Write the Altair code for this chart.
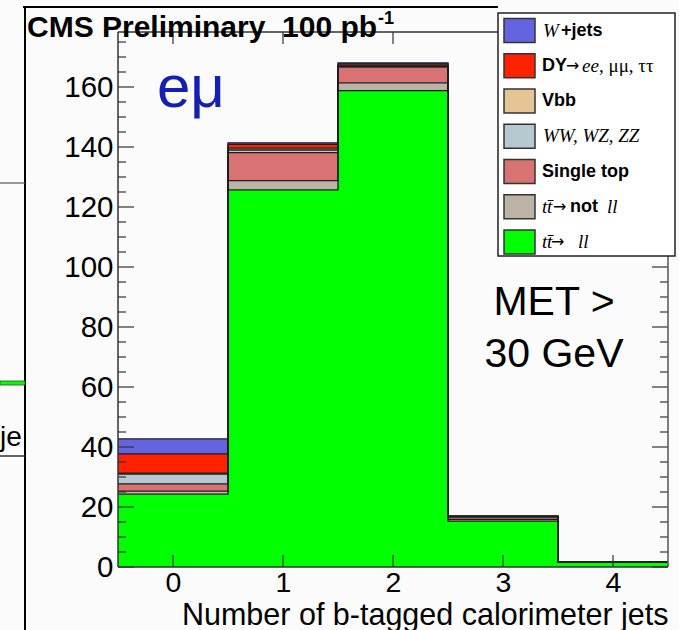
import altair as alt
import numpy as np
import pandas as pd

# ---------------- data ----------------
bins = [0, 1, 2, 3, 4]
processes = ["tt_ll", "tt_notll", "single_top", "diboson", "vbb", "dy", "wjets"]  # bottom -> top
tt_ll      = [24.3, 125.7, 158.8, 15.3, 1.6]
tt_notll   = [1.0, 3.1, 2.6, 0.6, 0.05]
single_top = [2.4, 9.3, 5.2, 0.7, 0.05]
diboson    = [3.3, 0.9, 0.3, 0.2, 0.0]
vbb        = [0.3, 0.6, 0.1, 0.05, 0.0]
dy         = [6.4, 1.3, 0.6, 0.1, 0.0]
wjets      = [5.0, 0.5, 0.4, 0.05, 0.0]
series = [tt_ll, tt_notll, single_top, diboson, vbb, dy, wjets]
process_colors = ["#00ff00", "#bdb2a6", "#d97272", "#b8c8d0", "#e5c596", "#ff2200", "#6464e0"]

y_label_values = [0, 20, 40, 60, 80, 100, 120, 140, 160]
y_minor_values = [v for v in range(0, 180, 5) if v % 20 != 0]
x_tick_values = [0, 1, 2, 3, 4]
bin_edges = [-0.5, 0.5, 1.5, 2.5, 3.5, 4.5]

legend_rows = [
    [("W", "serif-i"), ("+jets", "sans-b")],
    [("DY", "sans-b"), ("\u2192", "arrow"), ("ee", "serif-i"), (", \u03bc\u03bc, \u03c4\u03c4", "serif")],
    [("Vbb", "sans-b")],
    [("WW, WZ, ZZ", "serif-i")],
    [("Single top", "sans-b")],
    [("t", "serif-i"), ("t\u0304", "serif-i"), ("\u2192", "arrow"), ("not", "sans-b"), ("ll", "serif-i")],
    [("t", "serif-i"), ("t\u0304", "serif-i"), ("\u2192", "arrow"), ("ll", "serif-i")],
]
legend_colors = ["#6464e0", "#ff2200", "#e5c596", "#b8c8d0", "#d97272", "#bdb2a6", "#00ff00"]
legend_x = [
    [543, 561],
    [542, 566, 582, 599],
    [542],
    [543],
    [542],
    [542, 547, 553, 570, 607],
    [542, 547, 551, 578],
]

# ---------------- tables ----------------
rows = []
for k, (name, vals) in enumerate(zip(processes, series)):
    for b, v in zip(bins, vals):
        rows.append({"bin": b, "process": name, "order": k, "value": v})
df = pd.DataFrame(rows)

cum = np.cumsum(np.array(series), axis=0)
orows = []
for k, name in enumerate(processes):
    for i, e in enumerate(bin_edges):
        orows.append({"edge": e, "top": float(cum[k][min(i, len(bins) - 1)]), "process": name})
odf = pd.DataFrame(orows)

one = pd.DataFrame({"a": [0]})

W, H = 550, 535
OX, OY = 118, 32  # plot origin in page px
SANS = "Liberation Sans"
SERIF = "Liberation Serif"

xs = alt.Scale(domain=[-0.5, 4.5], nice=False, zero=False)
ys = alt.Scale(domain=[0, H / 3.0], nice=False, zero=True)

ax_x_labels = alt.Axis(orient="bottom", values=x_tick_values, format="d", ticks=False, domain=False,
                       grid=False, labelFont=SANS, labelFontSize=28.5, labelColor="black", labelPadding=1,
                       title="Number of b-tagged calorimeter jets", titleFont=SANS, titleFontSize=30.5,
                       titleFontWeight="normal", titleColor="black", titleAlign="right", titleX=W,
                       titleY=57, titleBaseline="alphabetic", titleAngle=0)
ax_y_labels = alt.Axis(orient="left", values=y_label_values, format="d", ticks=False, domain=False,
                       grid=False, labelFont=SANS, labelFontSize=29.5, labelColor="black", labelPadding=5,
                       title="")

rects = (
    alt.Chart(df)
    .transform_stack(stack="value", groupby=["bin"], as_=["lo", "hi"],
                     sort=[alt.SortField("order", order="ascending")])
    .transform_calculate(xl="datum.bin - 0.5", xr="datum.bin + 0.5")
    .mark_rect(strokeWidth=0)
    .encode(
        x=alt.X("xl:Q", scale=xs, axis=ax_x_labels),
        x2="xr:Q",
        y=alt.Y("lo:Q", scale=ys, axis=ax_y_labels),
        y2="hi:Q",
        color=alt.Color("process:N", scale=alt.Scale(domain=processes, range=process_colors), legend=None),
    )
)

outlines = (
    alt.Chart(odf)
    .mark_line(interpolate="step-after", color="#1e1e1e", strokeWidth=1.3)
    .encode(
        x=alt.X("edge:Q", scale=xs, axis=None),
        y=alt.Y("top:Q", scale=ys, axis=None),
        detail="process:N",
    )
)

TICK = "#333"


def yticks(vals, length, left):
    return alt.Chart(pd.DataFrame({"v": vals})).mark_rule(color=TICK, strokeWidth=1.2).encode(
        y=alt.Y("v:Q", scale=ys, axis=None),
        x=alt.value(0 if left else W),
        x2=alt.value(length if left else W - length),
    )


def xticks(vals, length, bottom):
    return alt.Chart(pd.DataFrame({"v": vals})).mark_rule(color=TICK, strokeWidth=1.2).encode(
        x=alt.X("v:Q", scale=xs, axis=None),
        y=alt.value(H if bottom else 0),
        y2=alt.value(H - length if bottom else length),
    )


ticks = [
    yticks(y_label_values, 16, True), yticks(y_minor_values, 8, True),
    yticks(y_label_values, 16, False), yticks(y_minor_values, 8, False),
    xticks(x_tick_values, 12, True), xticks(x_tick_values, 12, False),
]


def rule(x1, x2, y1, y2, color="black", width=1.5):
    return alt.Chart(one).mark_rule(color=color, strokeWidth=width).encode(
        x=alt.value(x1 - OX), x2=alt.value(x2 - OX), y=alt.value(y1 - OY), y2=alt.value(y2 - OY))


def box(x1, x2, y1, y2, fill, stroke="black", width=1.5):
    return alt.Chart(one).mark_rect(fill=fill, stroke=stroke, strokeWidth=width).encode(
        x=alt.value(x1 - OX), x2=alt.value(x2 - OX), y=alt.value(y1 - OY), y2=alt.value(y2 - OY))


def text(s, x, y, size, font=SANS, weight="normal", style="normal", color="black", align="left",
         baseline="alphabetic"):
    return alt.Chart(one).mark_text(text=s, font=font, fontSize=size, fontWeight=weight, fontStyle=style,
                                    color=color, align=align, baseline=baseline).encode(
        x=alt.value(x - OX), y=alt.value(y - OY))


# plot frame (drawn on top of the fills)
frame = [
    rule(OX, OX + W, OY, OY, color="#333", width=1.5),
    rule(OX, OX + W, OY + H, OY + H, color="#333", width=1.5),
    rule(OX, OX, OY, OY + H, color="#333", width=1.5),
    rule(OX + W, OX + W, OY, OY + H, color="#555", width=1.5),
]

decor = []
# outer pad frame and fragments of neighbouring panel
decor.append(rule(25, 25, 7, 630, width=2))
decor.append(rule(23, 498, 7, 7, width=2))
decor.append(rule(0, 25, 183, 183, color="#555", width=1.2))
decor.append(box(0, 25, 381, 385, "#00ff00", stroke="#444", width=0.8))
decor.append(text("je", 0, 446, 28))
decor.append(rule(0, 25, 456, 456, color="#333", width=1.5))

# header texts
decor.append(text("CMS Preliminary \u00a0100 pb", 27, 37, 30, weight="bold"))
decor.append(text("-1", 378, 24, 18, weight="bold"))
decor.append(text("e\u03bc", 157, 107, 60, color="#1420b4"))
decor.append(text("MET >", 554, 315, 41, align="center"))
decor.append(text("30 GeV", 554, 367, 41, align="center"))

# legend
decor.append(box(498, 675, 13, 256, "white", stroke="#222", width=1.5))
font_map = {"serif-i": (SERIF, "normal", "italic", 19), "serif": (SERIF, "normal", "normal", 19),
            "sans-b": (SANS, "bold", "normal", 18), "arrow": ("DejaVu Sans", "normal", "normal", 16)}
for i, (segs, col, xsegs) in enumerate(zip(legend_rows, legend_colors, legend_x)):
    cy = 30.5 + i * 35.25
    decor.append(box(504, 535, cy - 12, cy + 12, col, stroke="#333", width=1.5))
    for (s, kind), x0 in zip(segs, xsegs):
        f, w, st, sz = font_map[kind]
        decor.append(text(s, x0, cy, sz, font=f, weight=w, style=st, baseline="middle"))

chart = (
    alt.layer(rects, outlines, *ticks, *frame, *decor)
    .resolve_axis(x="independent", y="independent")
    .properties(width=W, height=H, autosize=alt.AutoSizeParams(type="none"),
                padding={"left": OX, "top": OY, "right": 679 - OX - W, "bottom": 630 - OY - H},
                background="#fbfbfb")
    .configure_view(stroke="transparent")
)

chart.save("out.html", embed_options={"renderer": "svg", "actions": False})
